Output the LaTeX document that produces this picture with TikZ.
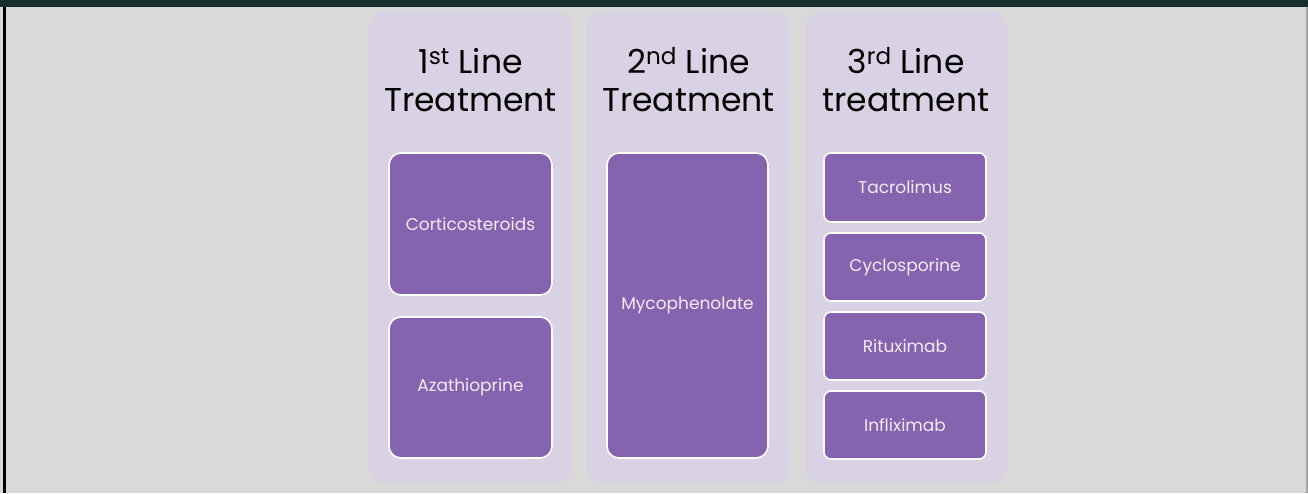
\documentclass[tikz,border=0pt]{standalone}
\usepackage{fontspec}
\setmainfont{Poppins}
\definecolor{pagebg}{HTML}{D9D9D9}
\definecolor{topbar}{HTML}{1B2E2E}
\definecolor{colbg}{HTML}{D9D2E4}
\definecolor{boxfill}{HTML}{8663AE}
\definecolor{boxtext}{HTML}{F2ECF8}
\definecolor{rightedge}{HTML}{A3A3A3}
\tikzset{
  column/.style={fill=colbg, draw=none, rounded corners=16pt},
  drug/.style={fill=boxfill, draw=white, line width=1.6pt, rounded corners=#1},
  drug/.default=12pt,
  druglabel/.style={text=boxtext, font=\fontsize{17}{20}\selectfont},
  heading/.style={align=center, font=\fontsize{33}{38}\selectfont, text=black},
}
\begin{document}
\begin{tikzpicture}[x=1pt,y=-1pt]
  \useasboundingbox (0,0) rectangle (1308,493);
  % page background, frame lines and top bar
  \fill[pagebg] (0,0) rectangle (1308,493);
  \fill[topbar] (0,0) rectangle (1308,7);
  \fill[black] (3,7) rectangle (6,493);
  \fill[rightedge] (1306,7) rectangle (1308,493);

  % three treatment columns
  \path[column] (369,12) rectangle (572,483);
  \path[column] (587,12) rectangle (790,483);
  \path[column] (805,12) rectangle (1007,483);

  \node[heading] (h1) at (470.5,80) {1\textsuperscript{st} Line\\Treatment};
  \node[heading] (h2) at (688.5,80) {2\textsuperscript{nd} Line\\Treatment};
  \node[heading] (h3) at (906,80) {3\textsuperscript{rd} Line\\treatment};

  % first line
  \draw[drug] (389,153) rectangle (552,295);
  \node[druglabel] (cort) at (470.5,224) {Corticosteroids};
  \draw[drug] (389,317) rectangle (552,458);
  \node[druglabel] (aza) at (470.5,387.5) {Azathioprine};

  % second line
  \draw[drug] (607,153) rectangle (768,458);
  \node[druglabel] (myco) at (687.5,305) {Mycophenolate};

  % third line
  \draw[drug=7pt] (824,153) rectangle (986,222);
  \node[druglabel] (tac) at (905,187.5) {Tacrolimus};
  \draw[drug=7pt] (824,233) rectangle (986,301);
  \node[druglabel] (cyc) at (905,267) {Cyclosporine};
  \draw[drug=7pt] (824,312) rectangle (986,380);
  \node[druglabel] (rit) at (905,346) {Rituximab};
  \draw[drug=7pt] (824,391) rectangle (986,459);
  \node[druglabel] (inf) at (905,425) {Infliximab};
\end{tikzpicture}
\end{document}
